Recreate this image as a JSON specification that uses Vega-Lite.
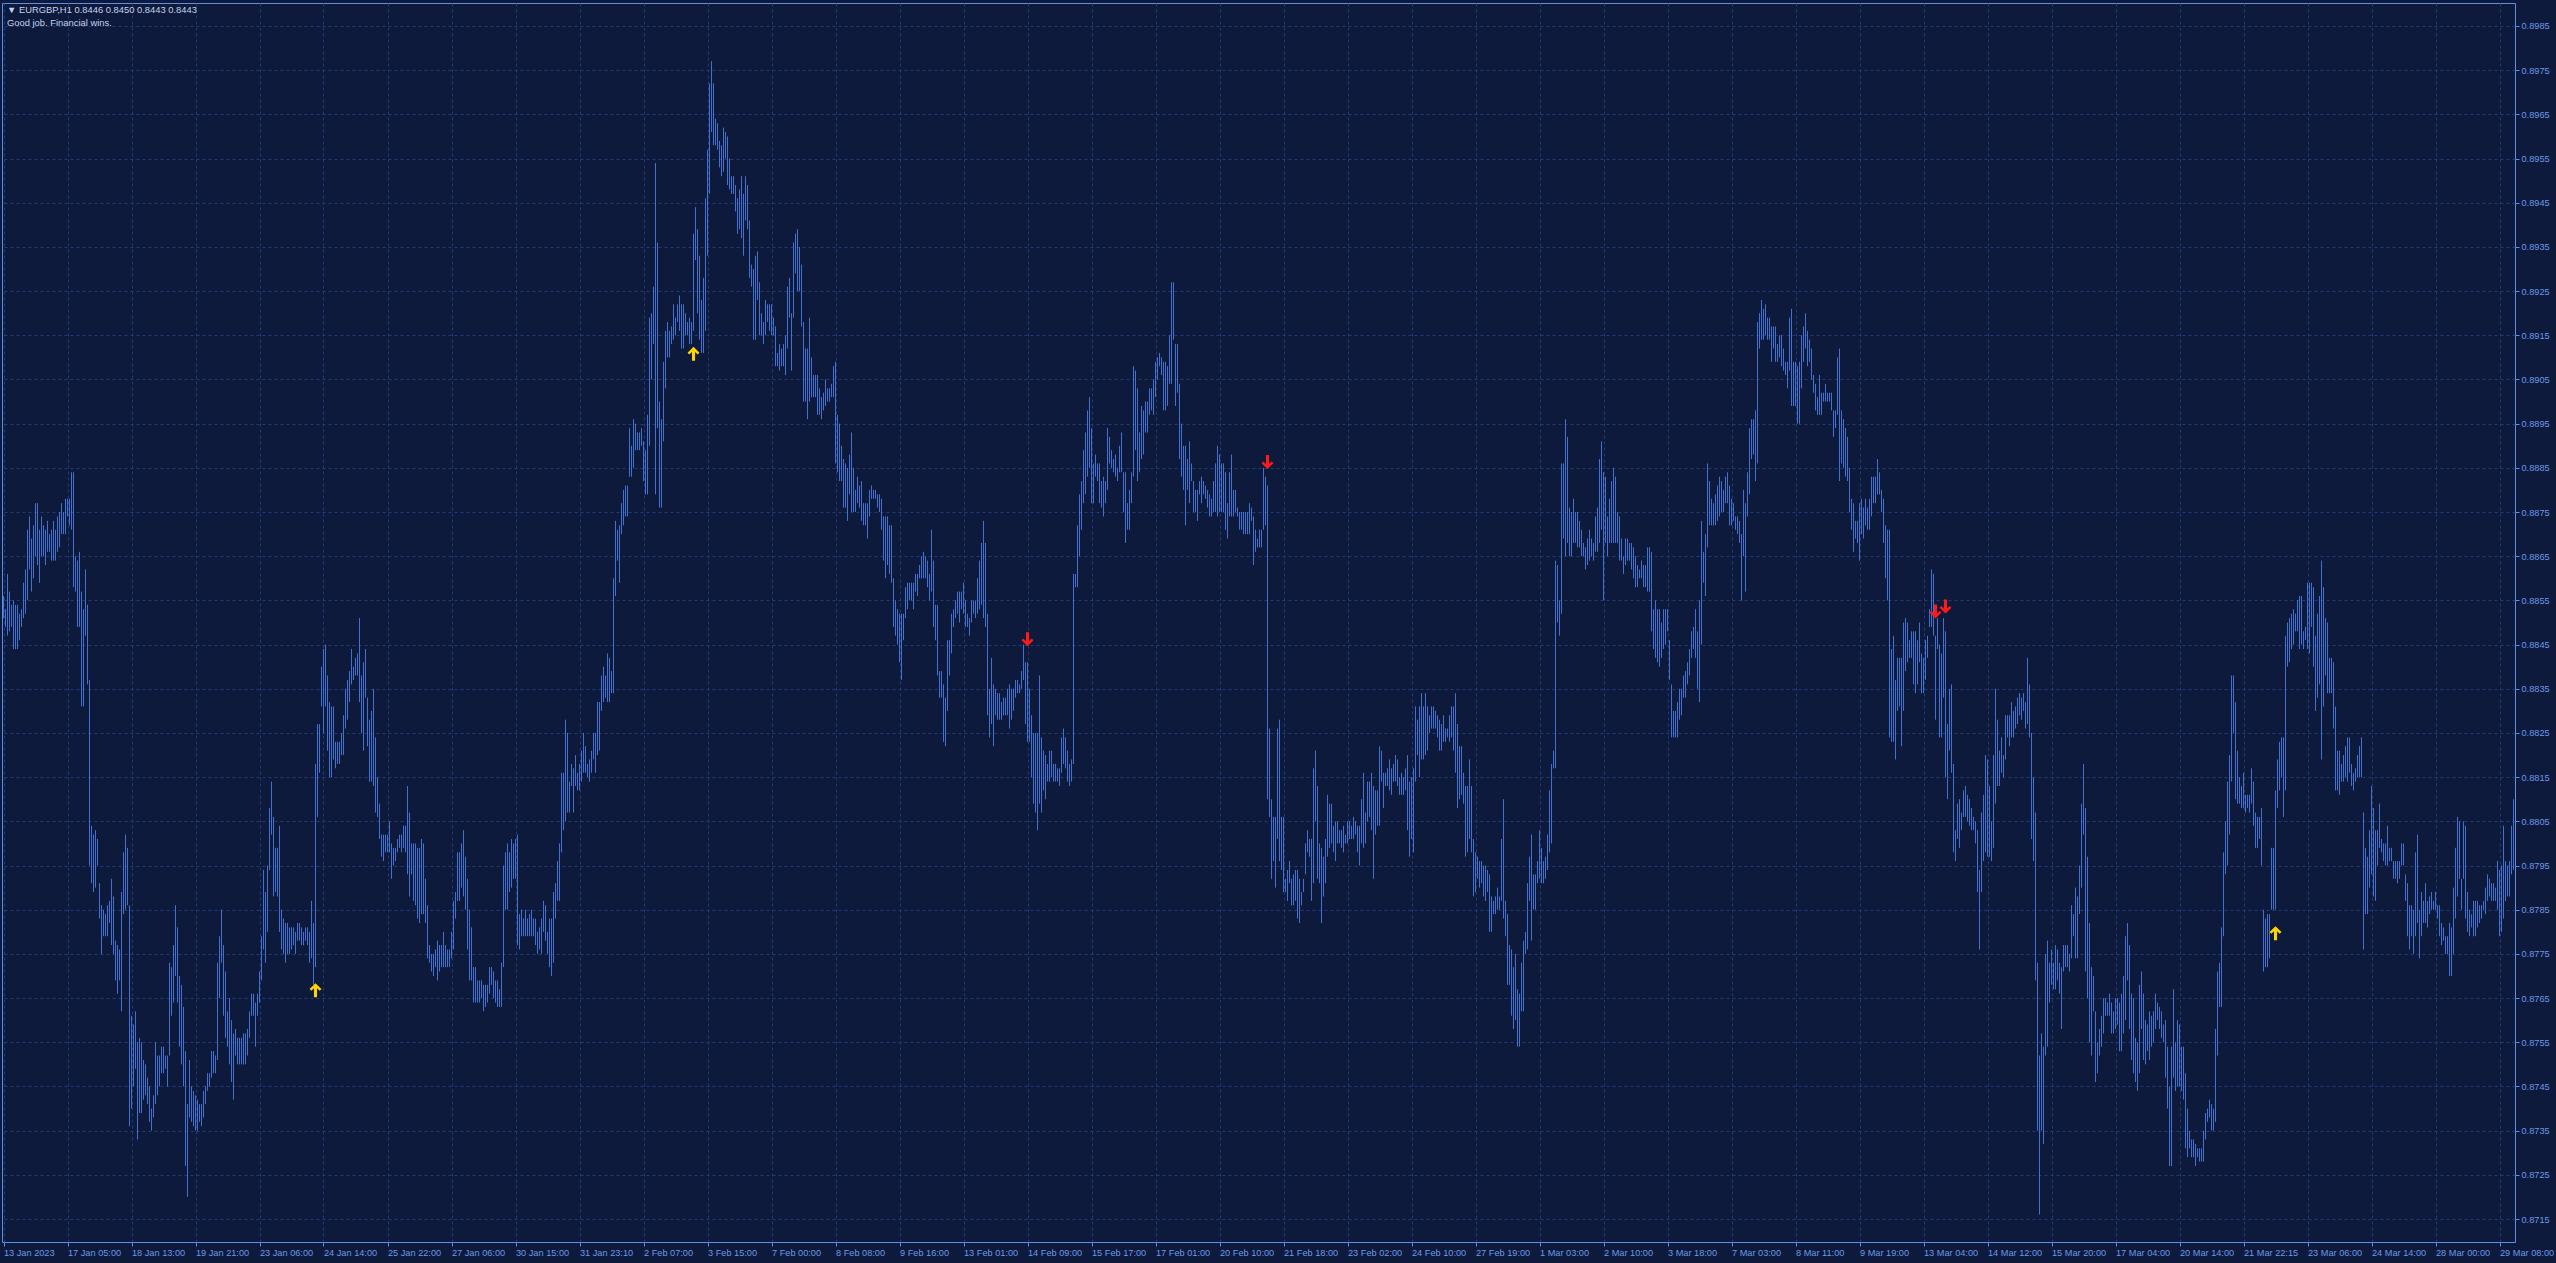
{
"$schema":"https://vega.github.io/schema/vega-lite/v6.json",
"width":2513,"height":1239,
"autosize":{"type":"none"},
"padding":{"left":2,"top":3,"right":41,"bottom":21},
"background":"#0e1a3b",
"config":{"view":{"stroke":"#5d8fe6","strokeWidth":1,"fill":"#0e1a3b"}},
"title":{"text":"▼ EURGBP,H1  0.8446 0.8450 0.8443 0.8443","subtitle":"Good job. Financial wins.","anchor":"start","frame":"group","orient":"top","offset":-25,"dx":5,"font":"Liberation Sans","fontSize":9.4,"fontWeight":"normal","color":"#c3d2f0","subtitleFont":"Liberation Sans","subtitleFontSize":9.4,"subtitleColor":"#c3d2f0","subtitlePadding":3.5},
"datasets":{
"signals":[{"i":156,"p":0.87668,"d":"up"},{"i":345,"p":0.89108,"d":"up"},{"i":512,"p":0.88462,"d":"down"},{"i":632,"p":0.88863,"d":"down"},{"i":966,"p":0.88525,"d":"down"},{"i":971,"p":0.88536,"d":"down"},{"i":1136,"p":0.87797,"d":"up"}],
"bars":[
{"i":0,"h":0.8856,"l":0.8851},{"i":1,"h":0.8853,"l":0.8849},{"i":2,"h":0.8861,"l":0.8847},{"i":3,"h":0.8857,"l":0.8848},{"i":4,"h":0.8854,"l":0.8849},{"i":5,"h":0.8855,"l":0.8844},{"i":6,"h":0.8854,"l":0.8844},{"i":7,"h":0.8854,"l":0.8844},{"i":8,"h":0.8852,"l":0.8846},{"i":9,"h":0.8853,"l":0.8849},
{"i":10,"h":0.8859,"l":0.8851},{"i":11,"h":0.8862,"l":0.8852},{"i":12,"h":0.8871,"l":0.8855},{"i":13,"h":0.8874,"l":0.8862},{"i":14,"h":0.8869,"l":0.8857},{"i":15,"h":0.8872,"l":0.8860},{"i":16,"h":0.8877,"l":0.8865},{"i":17,"h":0.8877,"l":0.8863},{"i":18,"h":0.8871,"l":0.8859},{"i":19,"h":0.8874,"l":0.8865},
{"i":20,"h":0.8872,"l":0.8865},{"i":21,"h":0.8871,"l":0.8863},{"i":22,"h":0.8873,"l":0.8866},{"i":23,"h":0.8870,"l":0.8866},{"i":24,"h":0.8871,"l":0.8864},{"i":25,"h":0.8873,"l":0.8864},{"i":26,"h":0.8871,"l":0.8864},{"i":27,"h":0.8874,"l":0.8866},{"i":28,"h":0.8875,"l":0.8867},{"i":29,"h":0.8877,"l":0.8870},
{"i":30,"h":0.8875,"l":0.8870},{"i":31,"h":0.8878,"l":0.8870},{"i":32,"h":0.8878,"l":0.8874},{"i":33,"h":0.8878,"l":0.8872},{"i":34,"h":0.8884,"l":0.8871},{"i":35,"h":0.8884,"l":0.8858},{"i":36,"h":0.8865,"l":0.8857},{"i":37,"h":0.8864,"l":0.8849},{"i":38,"h":0.8866,"l":0.8849},{"i":39,"h":0.8857,"l":0.8831},
{"i":40,"h":0.8853,"l":0.8831},{"i":41,"h":0.8862,"l":0.8847},{"i":42,"h":0.8854,"l":0.8836},{"i":43,"h":0.8837,"l":0.8795},{"i":44,"h":0.8804,"l":0.8791},{"i":45,"h":0.8802,"l":0.8789},{"i":46,"h":0.8803,"l":0.8790},{"i":47,"h":0.8801,"l":0.8795},{"i":48,"h":0.8791,"l":0.8783},{"i":49,"h":0.8786,"l":0.8775},
{"i":50,"h":0.8785,"l":0.8779},{"i":51,"h":0.8784,"l":0.8779},{"i":52,"h":0.8786,"l":0.8779},{"i":53,"h":0.8787,"l":0.8782},{"i":54,"h":0.8792,"l":0.8777},{"i":55,"h":0.8788,"l":0.8775},{"i":56,"h":0.8778,"l":0.8769},{"i":57,"h":0.8777,"l":0.8766},{"i":58,"h":0.8776,"l":0.8769},{"i":59,"h":0.8789,"l":0.8762},
{"i":60,"h":0.8798,"l":0.8784},{"i":61,"h":0.8802,"l":0.8785},{"i":62,"h":0.8799,"l":0.8786},{"i":63,"h":0.8786,"l":0.8736},{"i":64,"h":0.8761,"l":0.8740},{"i":65,"h":0.8759,"l":0.8745},{"i":66,"h":0.8762,"l":0.8749},{"i":67,"h":0.8755,"l":0.8733},{"i":68,"h":0.8756,"l":0.8739},{"i":69,"h":0.8755,"l":0.8739},
{"i":70,"h":0.8751,"l":0.8742},{"i":71,"h":0.8750,"l":0.8743},{"i":72,"h":0.8747,"l":0.8741},{"i":73,"h":0.8745,"l":0.8737},{"i":74,"h":0.8740,"l":0.8735},{"i":75,"h":0.8743,"l":0.8738},{"i":76,"h":0.8755,"l":0.8741},{"i":77,"h":0.8752,"l":0.8743},{"i":78,"h":0.8752,"l":0.8745},{"i":79,"h":0.8754,"l":0.8748},
{"i":80,"h":0.8754,"l":0.8748},{"i":81,"h":0.8752,"l":0.8749},{"i":82,"h":0.8752,"l":0.8745},{"i":83,"h":0.8773,"l":0.8752},{"i":84,"h":0.8772,"l":0.8761},{"i":85,"h":0.8777,"l":0.8764},{"i":86,"h":0.8786,"l":0.8770},{"i":87,"h":0.8781,"l":0.8764},{"i":88,"h":0.8770,"l":0.8754},{"i":89,"h":0.8768,"l":0.8750},
{"i":90,"h":0.8763,"l":0.8745},{"i":91,"h":0.8753,"l":0.8727},{"i":92,"h":0.8741,"l":0.8720},{"i":93,"h":0.8751,"l":0.8738},{"i":94,"h":0.8745,"l":0.8737},{"i":95,"h":0.8744,"l":0.8736},{"i":96,"h":0.8743,"l":0.8735},{"i":97,"h":0.8742,"l":0.8735},{"i":98,"h":0.8741,"l":0.8737},{"i":99,"h":0.8741,"l":0.8736},
{"i":100,"h":0.8744,"l":0.8738},{"i":101,"h":0.8745,"l":0.8741},{"i":102,"h":0.8748,"l":0.8744},{"i":103,"h":0.8748,"l":0.8745},{"i":104,"h":0.8753,"l":0.8747},{"i":105,"h":0.8753,"l":0.8748},{"i":106,"h":0.8752,"l":0.8748},{"i":107,"h":0.8773,"l":0.8751},{"i":108,"h":0.8779,"l":0.8765},{"i":109,"h":0.8785,"l":0.8773},
{"i":110,"h":0.8777,"l":0.8761},{"i":111,"h":0.8771,"l":0.8756},{"i":112,"h":0.8762,"l":0.8754},{"i":113,"h":0.8765,"l":0.8750},{"i":114,"h":0.8760,"l":0.8746},{"i":115,"h":0.8757,"l":0.8742},{"i":116,"h":0.8758,"l":0.8752},{"i":117,"h":0.8756,"l":0.8750},{"i":118,"h":0.8756,"l":0.8750},{"i":119,"h":0.8756,"l":0.8750},
{"i":120,"h":0.8757,"l":0.8750},{"i":121,"h":0.8757,"l":0.8750},{"i":122,"h":0.8758,"l":0.8752},{"i":123,"h":0.8762,"l":0.8756},{"i":124,"h":0.8766,"l":0.8761},{"i":125,"h":0.8766,"l":0.8761},{"i":126,"h":0.8764,"l":0.8754},{"i":127,"h":0.8766,"l":0.8761},{"i":128,"h":0.8771,"l":0.8764},{"i":129,"h":0.8779,"l":0.8769},
{"i":130,"h":0.8794,"l":0.8776},{"i":131,"h":0.8789,"l":0.8773},{"i":132,"h":0.8795,"l":0.8780},{"i":133,"h":0.8808,"l":0.8794},{"i":134,"h":0.8814,"l":0.8802},{"i":135,"h":0.8806,"l":0.8788},{"i":136,"h":0.8799,"l":0.8789},{"i":137,"h":0.8799,"l":0.8788},{"i":138,"h":0.8804,"l":0.8780},{"i":139,"h":0.8785,"l":0.8776},
{"i":140,"h":0.8783,"l":0.8775},{"i":141,"h":0.8782,"l":0.8773},{"i":142,"h":0.8782,"l":0.8775},{"i":143,"h":0.8781,"l":0.8775},{"i":144,"h":0.8781,"l":0.8776},{"i":145,"h":0.8781,"l":0.8777},{"i":146,"h":0.8780,"l":0.8775},{"i":147,"h":0.8782,"l":0.8778},{"i":148,"h":0.8782,"l":0.8778},{"i":149,"h":0.8781,"l":0.8777},
{"i":150,"h":0.8780,"l":0.8777},{"i":151,"h":0.8781,"l":0.8778},{"i":152,"h":0.8781,"l":0.8777},{"i":153,"h":0.8780,"l":0.8773},{"i":154,"h":0.8787,"l":0.8774},{"i":155,"h":0.8782,"l":0.8768},{"i":156,"h":0.8818,"l":0.8772},{"i":157,"h":0.8827,"l":0.8806},{"i":158,"h":0.8827,"l":0.8816},{"i":159,"h":0.8840,"l":0.8831},
{"i":160,"h":0.8844,"l":0.8825},{"i":161,"h":0.8845,"l":0.8831},{"i":162,"h":0.8838,"l":0.8821},{"i":163,"h":0.8832,"l":0.8815},{"i":164,"h":0.8831,"l":0.8815},{"i":165,"h":0.8831,"l":0.8819},{"i":166,"h":0.8823,"l":0.8817},{"i":167,"h":0.8823,"l":0.8818},{"i":168,"h":0.8823,"l":0.8818},{"i":169,"h":0.8825,"l":0.8820},
{"i":170,"h":0.8829,"l":0.8820},{"i":171,"h":0.8835,"l":0.8826},{"i":172,"h":0.8837,"l":0.8828},{"i":173,"h":0.8839,"l":0.8832},{"i":174,"h":0.8844,"l":0.8836},{"i":175,"h":0.8840,"l":0.8837},{"i":176,"h":0.8842,"l":0.8838},{"i":177,"h":0.8843,"l":0.8838},{"i":178,"h":0.8851,"l":0.8832},{"i":179,"h":0.8838,"l":0.8825},
{"i":180,"h":0.8841,"l":0.8821},{"i":181,"h":0.8844,"l":0.8833},{"i":182,"h":0.8833,"l":0.8822},{"i":183,"h":0.8828,"l":0.8814},{"i":184,"h":0.8830,"l":0.8814},{"i":185,"h":0.8835,"l":0.8813},{"i":186,"h":0.8824,"l":0.8807},{"i":187,"h":0.8815,"l":0.8806},{"i":188,"h":0.8809,"l":0.8801},{"i":189,"h":0.8802,"l":0.8797},
{"i":190,"h":0.8802,"l":0.8796},{"i":191,"h":0.8802,"l":0.8798},{"i":192,"h":0.8802,"l":0.8798},{"i":193,"h":0.8805,"l":0.8798},{"i":194,"h":0.8800,"l":0.8792},{"i":195,"h":0.8799,"l":0.8795},{"i":196,"h":0.8799,"l":0.8796},{"i":197,"h":0.8801,"l":0.8798},{"i":198,"h":0.8802,"l":0.8799},{"i":199,"h":0.8802,"l":0.8798},
{"i":200,"h":0.8804,"l":0.8799},{"i":201,"h":0.8804,"l":0.8798},{"i":202,"h":0.8813,"l":0.8793},{"i":203,"h":0.8807,"l":0.8788},{"i":204,"h":0.8800,"l":0.8793},{"i":205,"h":0.8800,"l":0.8787},{"i":206,"h":0.8800,"l":0.8786},{"i":207,"h":0.8799,"l":0.8783},{"i":208,"h":0.8799,"l":0.8782},{"i":209,"h":0.8801,"l":0.8784},
{"i":210,"h":0.8800,"l":0.8784},{"i":211,"h":0.8792,"l":0.8782},{"i":212,"h":0.8786,"l":0.8774},{"i":213,"h":0.8777,"l":0.8773},{"i":214,"h":0.8775,"l":0.8771},{"i":215,"h":0.8775,"l":0.8770},{"i":216,"h":0.8776,"l":0.8772},{"i":217,"h":0.8778,"l":0.8769},{"i":218,"h":0.8777,"l":0.8771},{"i":219,"h":0.8777,"l":0.8772},
{"i":220,"h":0.8780,"l":0.8772},{"i":221,"h":0.8777,"l":0.8772},{"i":222,"h":0.8776,"l":0.8772},{"i":223,"h":0.8776,"l":0.8772},{"i":224,"h":0.8780,"l":0.8774},{"i":225,"h":0.8787,"l":0.8776},{"i":226,"h":0.8789,"l":0.8783},{"i":227,"h":0.8798,"l":0.8787},{"i":228,"h":0.8798,"l":0.8787},{"i":229,"h":0.8800,"l":0.8790},
{"i":230,"h":0.8803,"l":0.8788},{"i":231,"h":0.8797,"l":0.8785},{"i":232,"h":0.8792,"l":0.8776},{"i":233,"h":0.8785,"l":0.8769},{"i":234,"h":0.8781,"l":0.8769},{"i":235,"h":0.8772,"l":0.8764},{"i":236,"h":0.8772,"l":0.8764},{"i":237,"h":0.8769,"l":0.8764},{"i":238,"h":0.8769,"l":0.8764},{"i":239,"h":0.8769,"l":0.8765},
{"i":240,"h":0.8768,"l":0.8762},{"i":241,"h":0.8768,"l":0.8763},{"i":242,"h":0.8768,"l":0.8764},{"i":243,"h":0.8772,"l":0.8766},{"i":244,"h":0.8772,"l":0.8768},{"i":245,"h":0.8771,"l":0.8765},{"i":246,"h":0.8769,"l":0.8764},{"i":247,"h":0.8769,"l":0.8763},{"i":248,"h":0.8767,"l":0.8763},{"i":249,"h":0.8773,"l":0.8763},
{"i":250,"h":0.8795,"l":0.8772},{"i":251,"h":0.8798,"l":0.8785},{"i":252,"h":0.8800,"l":0.8785},{"i":253,"h":0.8798,"l":0.8789},{"i":254,"h":0.8801,"l":0.8790},{"i":255,"h":0.8800,"l":0.8792},{"i":256,"h":0.8801,"l":0.8792},{"i":257,"h":0.8802,"l":0.8777},{"i":258,"h":0.8784,"l":0.8776},{"i":259,"h":0.8785,"l":0.8779},
{"i":260,"h":0.8783,"l":0.8779},{"i":261,"h":0.8785,"l":0.8779},{"i":262,"h":0.8783,"l":0.8779},{"i":263,"h":0.8784,"l":0.8779},{"i":264,"h":0.8785,"l":0.8779},{"i":265,"h":0.8783,"l":0.8779},{"i":266,"h":0.8783,"l":0.8777},{"i":267,"h":0.8780,"l":0.8775},{"i":268,"h":0.8781,"l":0.8776},{"i":269,"h":0.8783,"l":0.8775},
{"i":270,"h":0.8787,"l":0.8780},{"i":271,"h":0.8786,"l":0.8778},{"i":272,"h":0.8780,"l":0.8775},{"i":273,"h":0.8783,"l":0.8772},{"i":274,"h":0.8783,"l":0.8770},{"i":275,"h":0.8789,"l":0.8773},{"i":276,"h":0.8791,"l":0.8783},{"i":277,"h":0.8796,"l":0.8787},{"i":278,"h":0.8800,"l":0.8787},{"i":279,"h":0.8816,"l":0.8798},
{"i":280,"h":0.8816,"l":0.8803},{"i":281,"h":0.8828,"l":0.8805},{"i":282,"h":0.8825,"l":0.8807},{"i":283,"h":0.8814,"l":0.8807},{"i":284,"h":0.8818,"l":0.8813},{"i":285,"h":0.8817,"l":0.8807},{"i":286,"h":0.8820,"l":0.8813},{"i":287,"h":0.8816,"l":0.8812},{"i":288,"h":0.8818,"l":0.8812},{"i":289,"h":0.8821,"l":0.8814},
{"i":290,"h":0.8825,"l":0.8816},{"i":291,"h":0.8822,"l":0.8816},{"i":292,"h":0.8818,"l":0.8815},{"i":293,"h":0.8819,"l":0.8814},{"i":294,"h":0.8821,"l":0.8816},{"i":295,"h":0.8825,"l":0.8819},{"i":296,"h":0.8825,"l":0.8816},{"i":297,"h":0.8832,"l":0.8820},{"i":298,"h":0.8832,"l":0.8821},{"i":299,"h":0.8838,"l":0.8830},
{"i":300,"h":0.8840,"l":0.8832},{"i":301,"h":0.8838,"l":0.8833},{"i":302,"h":0.8843,"l":0.8832},{"i":303,"h":0.8842,"l":0.8832},{"i":304,"h":0.8839,"l":0.8834},{"i":305,"h":0.8860,"l":0.8834},{"i":306,"h":0.8873,"l":0.8856},{"i":307,"h":0.8871,"l":0.8864},{"i":308,"h":0.8872,"l":0.8859},{"i":309,"h":0.8877,"l":0.8870},
{"i":310,"h":0.8880,"l":0.8872},{"i":311,"h":0.8881,"l":0.8874},{"i":312,"h":0.8881,"l":0.8874},{"i":313,"h":0.8894,"l":0.8883},{"i":314,"h":0.8890,"l":0.8883},{"i":315,"h":0.8896,"l":0.8885},{"i":316,"h":0.8895,"l":0.8889},{"i":317,"h":0.8893,"l":0.8889},{"i":318,"h":0.8893,"l":0.8889},{"i":319,"h":0.8894,"l":0.8890},
{"i":320,"h":0.8891,"l":0.8882},{"i":321,"h":0.8889,"l":0.8879},{"i":322,"h":0.8897,"l":0.8879},{"i":323,"h":0.8919,"l":0.8890},{"i":324,"h":0.8920,"l":0.8905},{"i":325,"h":0.8926,"l":0.8913},{"i":326,"h":0.8954,"l":0.8879},{"i":327,"h":0.8936,"l":0.8894},{"i":328,"h":0.8900,"l":0.8876},{"i":329,"h":0.8896,"l":0.8876},
{"i":330,"h":0.8909,"l":0.8891},{"i":331,"h":0.8916,"l":0.8903},{"i":332,"h":0.8918,"l":0.8910},{"i":333,"h":0.8916,"l":0.8910},{"i":334,"h":0.8917,"l":0.8913},{"i":335,"h":0.8922,"l":0.8914},{"i":336,"h":0.8919,"l":0.8915},{"i":337,"h":0.8922,"l":0.8918},{"i":338,"h":0.8924,"l":0.8916},{"i":339,"h":0.8922,"l":0.8912},
{"i":340,"h":0.8922,"l":0.8912},{"i":341,"h":0.8920,"l":0.8915},{"i":342,"h":0.8918,"l":0.8915},{"i":343,"h":0.8919,"l":0.8913},{"i":344,"h":0.8918,"l":0.8913},{"i":345,"h":0.8938,"l":0.8916},{"i":346,"h":0.8944,"l":0.8932},{"i":347,"h":0.8939,"l":0.8920},{"i":348,"h":0.8933,"l":0.8914},{"i":349,"h":0.8923,"l":0.8911},
{"i":350,"h":0.8928,"l":0.8911},{"i":351,"h":0.8946,"l":0.8916},{"i":352,"h":0.8957,"l":0.8933},{"i":353,"h":0.8972,"l":0.8947},{"i":354,"h":0.8977,"l":0.8961},{"i":355,"h":0.8972,"l":0.8958},{"i":356,"h":0.8964,"l":0.8958},{"i":357,"h":0.8963,"l":0.8957},{"i":358,"h":0.8959,"l":0.8953},{"i":359,"h":0.8958,"l":0.8951},
{"i":360,"h":0.8962,"l":0.8952},{"i":361,"h":0.8961,"l":0.8955},{"i":362,"h":0.8960,"l":0.8949},{"i":363,"h":0.8955,"l":0.8948},{"i":364,"h":0.8951,"l":0.8947},{"i":365,"h":0.8951,"l":0.8947},{"i":366,"h":0.8949,"l":0.8943},{"i":367,"h":0.8946,"l":0.8938},{"i":368,"h":0.8948,"l":0.8939},{"i":369,"h":0.8951,"l":0.8937},
{"i":370,"h":0.8947,"l":0.8933},{"i":371,"h":0.8951,"l":0.8941},{"i":372,"h":0.8949,"l":0.8939},{"i":373,"h":0.8941,"l":0.8928},{"i":374,"h":0.8931,"l":0.8926},{"i":375,"h":0.8930,"l":0.8914},{"i":376,"h":0.8933,"l":0.8914},{"i":377,"h":0.8934,"l":0.8923},{"i":378,"h":0.8927,"l":0.8915},{"i":379,"h":0.8920,"l":0.8915},
{"i":380,"h":0.8918,"l":0.8913},{"i":381,"h":0.8923,"l":0.8915},{"i":382,"h":0.8922,"l":0.8918},{"i":383,"h":0.8922,"l":0.8916},{"i":384,"h":0.8922,"l":0.8915},{"i":385,"h":0.8919,"l":0.8915},{"i":386,"h":0.8917,"l":0.8908},{"i":387,"h":0.8911,"l":0.8908},{"i":388,"h":0.8913,"l":0.8907},{"i":389,"h":0.8912,"l":0.8908},
{"i":390,"h":0.8913,"l":0.8908},{"i":391,"h":0.8915,"l":0.8906},{"i":392,"h":0.8926,"l":0.8912},{"i":393,"h":0.8928,"l":0.8919},{"i":394,"h":0.8920,"l":0.8907},{"i":395,"h":0.8936,"l":0.8919},{"i":396,"h":0.8938,"l":0.8929},{"i":397,"h":0.8939,"l":0.8925},{"i":398,"h":0.8935,"l":0.8925},{"i":399,"h":0.8931,"l":0.8917},
{"i":400,"h":0.8918,"l":0.8900},{"i":401,"h":0.8912,"l":0.8900},{"i":402,"h":0.8912,"l":0.8896},{"i":403,"h":0.8919,"l":0.8900},{"i":404,"h":0.8910,"l":0.8901},{"i":405,"h":0.8906,"l":0.8901},{"i":406,"h":0.8906,"l":0.8901},{"i":407,"h":0.8906,"l":0.8897},{"i":408,"h":0.8903,"l":0.8897},{"i":409,"h":0.8901,"l":0.8896},
{"i":410,"h":0.8902,"l":0.8898},{"i":411,"h":0.8905,"l":0.8899},{"i":412,"h":0.8903,"l":0.8900},{"i":413,"h":0.8903,"l":0.8900},{"i":414,"h":0.8904,"l":0.8901},{"i":415,"h":0.8908,"l":0.8901},{"i":416,"h":0.8909,"l":0.8886},{"i":417,"h":0.8897,"l":0.8884},{"i":418,"h":0.8895,"l":0.8882},{"i":419,"h":0.8890,"l":0.8882},
{"i":420,"h":0.8887,"l":0.8876},{"i":421,"h":0.8886,"l":0.8876},{"i":422,"h":0.8885,"l":0.8873},{"i":423,"h":0.8888,"l":0.8879},{"i":424,"h":0.8893,"l":0.8875},{"i":425,"h":0.8885,"l":0.8875},{"i":426,"h":0.8880,"l":0.8875},{"i":427,"h":0.8883,"l":0.8877},{"i":428,"h":0.8881,"l":0.8876},{"i":429,"h":0.8882,"l":0.8873},
{"i":430,"h":0.8877,"l":0.8872},{"i":431,"h":0.8877,"l":0.8872},{"i":432,"h":0.8877,"l":0.8869},{"i":433,"h":0.8880,"l":0.8874},{"i":434,"h":0.8881,"l":0.8878},{"i":435,"h":0.8880,"l":0.8878},{"i":436,"h":0.8880,"l":0.8878},{"i":437,"h":0.8879,"l":0.8876},{"i":438,"h":0.8879,"l":0.8875},{"i":439,"h":0.8878,"l":0.8871},
{"i":440,"h":0.8874,"l":0.8864},{"i":441,"h":0.8874,"l":0.8860},{"i":442,"h":0.8874,"l":0.8863},{"i":443,"h":0.8872,"l":0.8861},{"i":444,"h":0.8872,"l":0.8859},{"i":445,"h":0.8860,"l":0.8849},{"i":446,"h":0.8855,"l":0.8847},{"i":447,"h":0.8853,"l":0.8845},{"i":448,"h":0.8852,"l":0.8841},{"i":449,"h":0.8852,"l":0.8837},
{"i":450,"h":0.8852,"l":0.8846},{"i":451,"h":0.8858,"l":0.8851},{"i":452,"h":0.8859,"l":0.8853},{"i":453,"h":0.8859,"l":0.8855},{"i":454,"h":0.8859,"l":0.8855},{"i":455,"h":0.8859,"l":0.8853},{"i":456,"h":0.8861,"l":0.8857},{"i":457,"h":0.8861,"l":0.8856},{"i":458,"h":0.8863,"l":0.8860},{"i":459,"h":0.8865,"l":0.8860},
{"i":460,"h":0.8866,"l":0.8860},{"i":461,"h":0.8865,"l":0.8860},{"i":462,"h":0.8864,"l":0.8858},{"i":463,"h":0.8861,"l":0.8855},{"i":464,"h":0.8871,"l":0.8857},{"i":465,"h":0.8864,"l":0.8849},{"i":466,"h":0.8854,"l":0.8846},{"i":467,"h":0.8854,"l":0.8838},{"i":468,"h":0.8839,"l":0.8833},{"i":469,"h":0.8839,"l":0.8833},
{"i":470,"h":0.8836,"l":0.8823},{"i":471,"h":0.8833,"l":0.8822},{"i":472,"h":0.8846,"l":0.8830},{"i":473,"h":0.8846,"l":0.8838},{"i":474,"h":0.8852,"l":0.8843},{"i":475,"h":0.8853,"l":0.8849},{"i":476,"h":0.8855,"l":0.8851},{"i":477,"h":0.8857,"l":0.8852},{"i":478,"h":0.8857,"l":0.8850},{"i":479,"h":0.8857,"l":0.8853},
{"i":480,"h":0.8859,"l":0.8852},{"i":481,"h":0.8855,"l":0.8849},{"i":482,"h":0.8852,"l":0.8849},{"i":483,"h":0.8851,"l":0.8847},{"i":484,"h":0.8855,"l":0.8850},{"i":485,"h":0.8855,"l":0.8852},{"i":486,"h":0.8855,"l":0.8851},{"i":487,"h":0.8860,"l":0.8852},{"i":488,"h":0.8864,"l":0.8853},{"i":489,"h":0.8868,"l":0.8854},
{"i":490,"h":0.8873,"l":0.8851},{"i":491,"h":0.8868,"l":0.8849},{"i":492,"h":0.8852,"l":0.8829},{"i":493,"h":0.8835,"l":0.8824},{"i":494,"h":0.8842,"l":0.8827},{"i":495,"h":0.8836,"l":0.8822},{"i":496,"h":0.8835,"l":0.8829},{"i":497,"h":0.8834,"l":0.8828},{"i":498,"h":0.8834,"l":0.8828},{"i":499,"h":0.8832,"l":0.8828},
{"i":500,"h":0.8833,"l":0.8829},{"i":501,"h":0.8833,"l":0.8829},{"i":502,"h":0.8835,"l":0.8829},{"i":503,"h":0.8836,"l":0.8826},{"i":504,"h":0.8835,"l":0.8828},{"i":505,"h":0.8835,"l":0.8830},{"i":506,"h":0.8837,"l":0.8833},{"i":507,"h":0.8837,"l":0.8834},{"i":508,"h":0.8836,"l":0.8834},{"i":509,"h":0.8839,"l":0.8835},
{"i":510,"h":0.8845,"l":0.8837},{"i":511,"h":0.8841,"l":0.8827},{"i":512,"h":0.8841,"l":0.8823},{"i":513,"h":0.8835,"l":0.8823},{"i":514,"h":0.8829,"l":0.8815},{"i":515,"h":0.8825,"l":0.8809},{"i":516,"h":0.8825,"l":0.8807},{"i":517,"h":0.8825,"l":0.8803},{"i":518,"h":0.8838,"l":0.8809},{"i":519,"h":0.8824,"l":0.8807},
{"i":520,"h":0.8821,"l":0.8812},{"i":521,"h":0.8820,"l":0.8810},{"i":522,"h":0.8818,"l":0.8814},{"i":523,"h":0.8821,"l":0.8814},{"i":524,"h":0.8821,"l":0.8815},{"i":525,"h":0.8818,"l":0.8814},{"i":526,"h":0.8818,"l":0.8814},{"i":527,"h":0.8817,"l":0.8814},{"i":528,"h":0.8817,"l":0.8813},{"i":529,"h":0.8824,"l":0.8816},
{"i":530,"h":0.8826,"l":0.8818},{"i":531,"h":0.8824,"l":0.8817},{"i":532,"h":0.8821,"l":0.8814},{"i":533,"h":0.8818,"l":0.8813},{"i":534,"h":0.8819,"l":0.8814},{"i":535,"h":0.8861,"l":0.8818},{"i":536,"h":0.8861,"l":0.8858},{"i":537,"h":0.8872,"l":0.8858},{"i":538,"h":0.8879,"l":0.8865},{"i":539,"h":0.8882,"l":0.8871},
{"i":540,"h":0.8889,"l":0.8877},{"i":541,"h":0.8893,"l":0.8879},{"i":542,"h":0.8898,"l":0.8883},{"i":543,"h":0.8901,"l":0.8885},{"i":544,"h":0.8894,"l":0.8877},{"i":545,"h":0.8886,"l":0.8877},{"i":546,"h":0.8888,"l":0.8883},{"i":547,"h":0.8886,"l":0.8882},{"i":548,"h":0.8886,"l":0.8877},{"i":549,"h":0.8882,"l":0.8876},
{"i":550,"h":0.8883,"l":0.8874},{"i":551,"h":0.8882,"l":0.8877},{"i":552,"h":0.8894,"l":0.8880},{"i":553,"h":0.8892,"l":0.8886},{"i":554,"h":0.8889,"l":0.8885},{"i":555,"h":0.8887,"l":0.8884},{"i":556,"h":0.8888,"l":0.8883},{"i":557,"h":0.8885,"l":0.8882},{"i":558,"h":0.8890,"l":0.8884},{"i":559,"h":0.8893,"l":0.8884},
{"i":560,"h":0.8884,"l":0.8875},{"i":561,"h":0.8884,"l":0.8868},{"i":562,"h":0.8877,"l":0.8871},{"i":563,"h":0.8880,"l":0.8871},{"i":564,"h":0.8884,"l":0.8877},{"i":565,"h":0.8908,"l":0.8883},{"i":566,"h":0.8907,"l":0.8889},{"i":567,"h":0.8903,"l":0.8882},{"i":568,"h":0.8893,"l":0.8884},{"i":569,"h":0.8899,"l":0.8887},
{"i":570,"h":0.8898,"l":0.8888},{"i":571,"h":0.8900,"l":0.8893},{"i":572,"h":0.8900,"l":0.8893},{"i":573,"h":0.8903,"l":0.8897},{"i":574,"h":0.8903,"l":0.8898},{"i":575,"h":0.8905,"l":0.8897},{"i":576,"h":0.8909,"l":0.8901},{"i":577,"h":0.8910,"l":0.8905},{"i":578,"h":0.8911,"l":0.8908},{"i":579,"h":0.8910,"l":0.8906},
{"i":580,"h":0.8909,"l":0.8898},{"i":581,"h":0.8909,"l":0.8898},{"i":582,"h":0.8908,"l":0.8899},{"i":583,"h":0.8915,"l":0.8904},{"i":584,"h":0.8927,"l":0.8904},{"i":585,"h":0.8927,"l":0.8914},{"i":586,"h":0.8913,"l":0.8899},{"i":587,"h":0.8913,"l":0.8902},{"i":588,"h":0.8904,"l":0.8887},{"i":589,"h":0.8895,"l":0.8883},
{"i":590,"h":0.8890,"l":0.8880},{"i":591,"h":0.8890,"l":0.8872},{"i":592,"h":0.8887,"l":0.8880},{"i":593,"h":0.8891,"l":0.8877},{"i":594,"h":0.8886,"l":0.8882},{"i":595,"h":0.8882,"l":0.8875},{"i":596,"h":0.8880,"l":0.8875},{"i":597,"h":0.8880,"l":0.8873},{"i":598,"h":0.8882,"l":0.8879},{"i":599,"h":0.8883,"l":0.8877},
{"i":600,"h":0.8882,"l":0.8879},{"i":601,"h":0.8881,"l":0.8878},{"i":602,"h":0.8880,"l":0.8876},{"i":603,"h":0.8879,"l":0.8874},{"i":604,"h":0.8878,"l":0.8874},{"i":605,"h":0.8882,"l":0.8875},{"i":606,"h":0.8886,"l":0.8875},{"i":607,"h":0.8890,"l":0.8874},{"i":608,"h":0.8888,"l":0.8875},{"i":609,"h":0.8886,"l":0.8875},
{"i":610,"h":0.8886,"l":0.8875},{"i":611,"h":0.8884,"l":0.8871},{"i":612,"h":0.8877,"l":0.8869},{"i":613,"h":0.8884,"l":0.8874},{"i":614,"h":0.8888,"l":0.8874},{"i":615,"h":0.8880,"l":0.8874},{"i":616,"h":0.8880,"l":0.8875},{"i":617,"h":0.8876,"l":0.8874},{"i":618,"h":0.8875,"l":0.8871},{"i":619,"h":0.8875,"l":0.8871},
{"i":620,"h":0.8875,"l":0.8870},{"i":621,"h":0.8875,"l":0.8870},{"i":622,"h":0.8875,"l":0.8870},{"i":623,"h":0.8877,"l":0.8870},{"i":624,"h":0.8876,"l":0.8873},{"i":625,"h":0.8874,"l":0.8863},{"i":626,"h":0.8871,"l":0.8866},{"i":627,"h":0.8869,"l":0.8867},{"i":628,"h":0.8871,"l":0.8867},{"i":629,"h":0.8871,"l":0.8867},
{"i":630,"h":0.8885,"l":0.8871},{"i":631,"h":0.8883,"l":0.8872},{"i":632,"h":0.8881,"l":0.8810},{"i":633,"h":0.8826,"l":0.8806},{"i":634,"h":0.8810,"l":0.8792},{"i":635,"h":0.8806,"l":0.8796},{"i":636,"h":0.8806,"l":0.8790},{"i":637,"h":0.8826,"l":0.8801},{"i":638,"h":0.8828,"l":0.8796},{"i":639,"h":0.8806,"l":0.8794},
{"i":640,"h":0.8806,"l":0.8789},{"i":641,"h":0.8792,"l":0.8789},{"i":642,"h":0.8794,"l":0.8787},{"i":643,"h":0.8796,"l":0.8791},{"i":644,"h":0.8792,"l":0.8786},{"i":645,"h":0.8793,"l":0.8786},{"i":646,"h":0.8794,"l":0.8787},{"i":647,"h":0.8794,"l":0.8783},{"i":648,"h":0.8792,"l":0.8782},{"i":649,"h":0.8789,"l":0.8786},
{"i":650,"h":0.8792,"l":0.8789},{"i":651,"h":0.8800,"l":0.8793},{"i":652,"h":0.8803,"l":0.8798},{"i":653,"h":0.8801,"l":0.8797},{"i":654,"h":0.8801,"l":0.8787},{"i":655,"h":0.8817,"l":0.8791},{"i":656,"h":0.8821,"l":0.8805},{"i":657,"h":0.8813,"l":0.8792},{"i":658,"h":0.8800,"l":0.8791},{"i":659,"h":0.8799,"l":0.8782},
{"i":660,"h":0.8797,"l":0.8788},{"i":661,"h":0.8801,"l":0.8791},{"i":662,"h":0.8811,"l":0.8797},{"i":663,"h":0.8809,"l":0.8799},{"i":664,"h":0.8809,"l":0.8800},{"i":665,"h":0.8804,"l":0.8798},{"i":666,"h":0.8805,"l":0.8796},{"i":667,"h":0.8805,"l":0.8800},{"i":668,"h":0.8803,"l":0.8800},{"i":669,"h":0.8803,"l":0.8799},
{"i":670,"h":0.8804,"l":0.8798},{"i":671,"h":0.8802,"l":0.8800},{"i":672,"h":0.8805,"l":0.8800},{"i":673,"h":0.8805,"l":0.8801},{"i":674,"h":0.8804,"l":0.8801},{"i":675,"h":0.8806,"l":0.8801},{"i":676,"h":0.8805,"l":0.8802},{"i":677,"h":0.8804,"l":0.8798},{"i":678,"h":0.8804,"l":0.8795},{"i":679,"h":0.8810,"l":0.8800},
{"i":680,"h":0.8816,"l":0.8799},{"i":681,"h":0.8807,"l":0.8800},{"i":682,"h":0.8814,"l":0.8805},{"i":683,"h":0.8814,"l":0.8806},{"i":684,"h":0.8816,"l":0.8803},{"i":685,"h":0.8813,"l":0.8792},{"i":686,"h":0.8812,"l":0.8802},{"i":687,"h":0.8812,"l":0.8804},{"i":688,"h":0.8822,"l":0.8804},{"i":689,"h":0.8821,"l":0.8814},
{"i":690,"h":0.8816,"l":0.8808},{"i":691,"h":0.8816,"l":0.8813},{"i":692,"h":0.8817,"l":0.8813},{"i":693,"h":0.8819,"l":0.8812},{"i":694,"h":0.8817,"l":0.8811},{"i":695,"h":0.8818,"l":0.8814},{"i":696,"h":0.8820,"l":0.8814},{"i":697,"h":0.8819,"l":0.8813},{"i":698,"h":0.8815,"l":0.8811},{"i":699,"h":0.8816,"l":0.8811},
{"i":700,"h":0.8815,"l":0.8811},{"i":701,"h":0.8817,"l":0.8812},{"i":702,"h":0.8820,"l":0.8803},{"i":703,"h":0.8814,"l":0.8797},{"i":704,"h":0.8815,"l":0.8801},{"i":705,"h":0.8817,"l":0.8798},{"i":706,"h":0.8831,"l":0.8814},{"i":707,"h":0.8828,"l":0.8820},{"i":708,"h":0.8831,"l":0.8815},{"i":709,"h":0.8834,"l":0.8819},
{"i":710,"h":0.8831,"l":0.8819},{"i":711,"h":0.8834,"l":0.8820},{"i":712,"h":0.8831,"l":0.8821},{"i":713,"h":0.8829,"l":0.8825},{"i":714,"h":0.8831,"l":0.8826},{"i":715,"h":0.8831,"l":0.8826},{"i":716,"h":0.8830,"l":0.8826},{"i":717,"h":0.8829,"l":0.8824},{"i":718,"h":0.8828,"l":0.8821},{"i":719,"h":0.8827,"l":0.8821},
{"i":720,"h":0.8829,"l":0.8823},{"i":721,"h":0.8826,"l":0.8823},{"i":722,"h":0.8826,"l":0.8824},{"i":723,"h":0.8829,"l":0.8823},{"i":724,"h":0.8831,"l":0.8824},{"i":725,"h":0.8831,"l":0.8821},{"i":726,"h":0.8834,"l":0.8816},{"i":727,"h":0.8827,"l":0.8808},{"i":728,"h":0.8822,"l":0.8810},{"i":729,"h":0.8822,"l":0.8811},
{"i":730,"h":0.8816,"l":0.8809},{"i":731,"h":0.8813,"l":0.8797},{"i":732,"h":0.8813,"l":0.8798},{"i":733,"h":0.8819,"l":0.8801},{"i":734,"h":0.8813,"l":0.8798},{"i":735,"h":0.8801,"l":0.8788},{"i":736,"h":0.8798,"l":0.8789},{"i":737,"h":0.8797,"l":0.8792},{"i":738,"h":0.8796,"l":0.8790},{"i":739,"h":0.8796,"l":0.8791},
{"i":740,"h":0.8795,"l":0.8788},{"i":741,"h":0.8795,"l":0.8787},{"i":742,"h":0.8794,"l":0.8789},{"i":743,"h":0.8793,"l":0.8780},{"i":744,"h":0.8788,"l":0.8780},{"i":745,"h":0.8787,"l":0.8784},{"i":746,"h":0.8788,"l":0.8784},{"i":747,"h":0.8790,"l":0.8785},{"i":748,"h":0.8788,"l":0.8785},{"i":749,"h":0.8801,"l":0.8787},
{"i":750,"h":0.8810,"l":0.8783},{"i":751,"h":0.8787,"l":0.8779},{"i":752,"h":0.8784,"l":0.8768},{"i":753,"h":0.8777,"l":0.8768},{"i":754,"h":0.8776,"l":0.8761},{"i":755,"h":0.8772,"l":0.8758},{"i":756,"h":0.8775,"l":0.8760},{"i":757,"h":0.8767,"l":0.8754},{"i":758,"h":0.8766,"l":0.8754},{"i":759,"h":0.8773,"l":0.8762},
{"i":760,"h":0.8778,"l":0.8762},{"i":761,"h":0.8780,"l":0.8775},{"i":762,"h":0.8791,"l":0.8776},{"i":763,"h":0.8797,"l":0.8787},{"i":764,"h":0.8802,"l":0.8778},{"i":765,"h":0.8793,"l":0.8785},{"i":766,"h":0.8793,"l":0.8785},{"i":767,"h":0.8796,"l":0.8791},{"i":768,"h":0.8803,"l":0.8792},{"i":769,"h":0.8799,"l":0.8791},
{"i":770,"h":0.8796,"l":0.8791},{"i":771,"h":0.8797,"l":0.8792},{"i":772,"h":0.8802,"l":0.8794},{"i":773,"h":0.8812,"l":0.8798},{"i":774,"h":0.8818,"l":0.8800},{"i":775,"h":0.8821,"l":0.8817},{"i":776,"h":0.8864,"l":0.8817},{"i":777,"h":0.8863,"l":0.8850},{"i":778,"h":0.8855,"l":0.8847},{"i":779,"h":0.8886,"l":0.8852},
{"i":780,"h":0.8886,"l":0.8869},{"i":781,"h":0.8896,"l":0.8865},{"i":782,"h":0.8892,"l":0.8868},{"i":783,"h":0.8876,"l":0.8865},{"i":784,"h":0.8875,"l":0.8865},{"i":785,"h":0.8878,"l":0.8868},{"i":786,"h":0.8875,"l":0.8868},{"i":787,"h":0.8875,"l":0.8867},{"i":788,"h":0.8873,"l":0.8867},{"i":789,"h":0.8871,"l":0.8865},
{"i":790,"h":0.8868,"l":0.8865},{"i":791,"h":0.8867,"l":0.8862},{"i":792,"h":0.8869,"l":0.8863},{"i":793,"h":0.8871,"l":0.8864},{"i":794,"h":0.8869,"l":0.8865},{"i":795,"h":0.8868,"l":0.8864},{"i":796,"h":0.8874,"l":0.8866},{"i":797,"h":0.8876,"l":0.8866},{"i":798,"h":0.8887,"l":0.8868},{"i":799,"h":0.8891,"l":0.8871},
{"i":800,"h":0.8884,"l":0.8855},{"i":801,"h":0.8883,"l":0.8868},{"i":802,"h":0.8874,"l":0.8865},{"i":803,"h":0.8878,"l":0.8868},{"i":804,"h":0.8882,"l":0.8868},{"i":805,"h":0.8885,"l":0.8868},{"i":806,"h":0.8883,"l":0.8868},{"i":807,"h":0.8875,"l":0.8868},{"i":808,"h":0.8874,"l":0.8864},{"i":809,"h":0.8869,"l":0.8864},
{"i":810,"h":0.8865,"l":0.8861},{"i":811,"h":0.8869,"l":0.8863},{"i":812,"h":0.8869,"l":0.8864},{"i":813,"h":0.8868,"l":0.8864},{"i":814,"h":0.8868,"l":0.8862},{"i":815,"h":0.8867,"l":0.8860},{"i":816,"h":0.8865,"l":0.8858},{"i":817,"h":0.8863,"l":0.8858},{"i":818,"h":0.8862,"l":0.8860},{"i":819,"h":0.8864,"l":0.8860},
{"i":820,"h":0.8863,"l":0.8858},{"i":821,"h":0.8863,"l":0.8858},{"i":822,"h":0.8867,"l":0.8857},{"i":823,"h":0.8867,"l":0.8857},{"i":824,"h":0.8866,"l":0.8848},{"i":825,"h":0.8853,"l":0.8844},{"i":826,"h":0.8855,"l":0.8842},{"i":827,"h":0.8853,"l":0.8841},{"i":828,"h":0.8853,"l":0.8840},{"i":829,"h":0.8850,"l":0.8842},
{"i":830,"h":0.8853,"l":0.8844},{"i":831,"h":0.8853,"l":0.8845},{"i":832,"h":0.8853,"l":0.8848},{"i":833,"h":0.8846,"l":0.8837},{"i":834,"h":0.8836,"l":0.8824},{"i":835,"h":0.8830,"l":0.8824},{"i":836,"h":0.8830,"l":0.8824},{"i":837,"h":0.8832,"l":0.8824},{"i":838,"h":0.8835,"l":0.8828},{"i":839,"h":0.8835,"l":0.8829},
{"i":840,"h":0.8838,"l":0.8833},{"i":841,"h":0.8839,"l":0.8833},{"i":842,"h":0.8841,"l":0.8836},{"i":843,"h":0.8844,"l":0.8838},{"i":844,"h":0.8848,"l":0.8842},{"i":845,"h":0.8849,"l":0.8844},{"i":846,"h":0.8853,"l":0.8842},{"i":847,"h":0.8848,"l":0.8835},{"i":848,"h":0.8855,"l":0.8832},{"i":849,"h":0.8873,"l":0.8845},
{"i":850,"h":0.8866,"l":0.8859},{"i":851,"h":0.8870,"l":0.8856},{"i":852,"h":0.8886,"l":0.8867},{"i":853,"h":0.8882,"l":0.8872},{"i":854,"h":0.8878,"l":0.8872},{"i":855,"h":0.8877,"l":0.8872},{"i":856,"h":0.8879,"l":0.8872},{"i":857,"h":0.8881,"l":0.8873},{"i":858,"h":0.8883,"l":0.8874},{"i":859,"h":0.8882,"l":0.8875},
{"i":860,"h":0.8880,"l":0.8875},{"i":861,"h":0.8883,"l":0.8877},{"i":862,"h":0.8884,"l":0.8877},{"i":863,"h":0.8881,"l":0.8872},{"i":864,"h":0.8878,"l":0.8872},{"i":865,"h":0.8877,"l":0.8873},{"i":866,"h":0.8874,"l":0.8871},{"i":867,"h":0.8874,"l":0.8870},{"i":868,"h":0.8873,"l":0.8868},{"i":869,"h":0.8870,"l":0.8855},
{"i":870,"h":0.8880,"l":0.8865},{"i":871,"h":0.8877,"l":0.8857},{"i":872,"h":0.8884,"l":0.8874},{"i":873,"h":0.8894,"l":0.8879},{"i":874,"h":0.8896,"l":0.8887},{"i":875,"h":0.8896,"l":0.8888},{"i":876,"h":0.8898,"l":0.8882},{"i":877,"h":0.8918,"l":0.8886},{"i":878,"h":0.8920,"l":0.8912},{"i":879,"h":0.8923,"l":0.8914},
{"i":880,"h":0.8921,"l":0.8914},{"i":881,"h":0.8922,"l":0.8915},{"i":882,"h":0.8919,"l":0.8914},{"i":883,"h":0.8919,"l":0.8914},{"i":884,"h":0.8917,"l":0.8909},{"i":885,"h":0.8917,"l":0.8912},{"i":886,"h":0.8917,"l":0.8909},{"i":887,"h":0.8913,"l":0.8909},{"i":888,"h":0.8915,"l":0.8910},{"i":889,"h":0.8915,"l":0.8908},
{"i":890,"h":0.8912,"l":0.8907},{"i":891,"h":0.8909,"l":0.8906},{"i":892,"h":0.8909,"l":0.8903},{"i":893,"h":0.8919,"l":0.8907},{"i":894,"h":0.8921,"l":0.8899},{"i":895,"h":0.8909,"l":0.8899},{"i":896,"h":0.8909,"l":0.8899},{"i":897,"h":0.8908,"l":0.8895},{"i":898,"h":0.8909,"l":0.8895},{"i":899,"h":0.8915,"l":0.8903},
{"i":900,"h":0.8917,"l":0.8909},{"i":901,"h":0.8920,"l":0.8912},{"i":902,"h":0.8916,"l":0.8908},{"i":903,"h":0.8914,"l":0.8909},{"i":904,"h":0.8912,"l":0.8905},{"i":905,"h":0.8906,"l":0.8902},{"i":906,"h":0.8904,"l":0.8898},{"i":907,"h":0.8901,"l":0.8897},{"i":908,"h":0.8906,"l":0.8897},{"i":909,"h":0.8902,"l":0.8897},
{"i":910,"h":0.8902,"l":0.8900},{"i":911,"h":0.8904,"l":0.8900},{"i":912,"h":0.8902,"l":0.8900},{"i":913,"h":0.8902,"l":0.8900},{"i":914,"h":0.8902,"l":0.8898},{"i":915,"h":0.8898,"l":0.8892},{"i":916,"h":0.8898,"l":0.8894},{"i":917,"h":0.8910,"l":0.8897},{"i":918,"h":0.8912,"l":0.8882},{"i":919,"h":0.8898,"l":0.8886},
{"i":920,"h":0.8896,"l":0.8885},{"i":921,"h":0.8894,"l":0.8883},{"i":922,"h":0.8892,"l":0.8882},{"i":923,"h":0.8885,"l":0.8875},{"i":924,"h":0.8878,"l":0.8871},{"i":925,"h":0.8877,"l":0.8866},{"i":926,"h":0.8873,"l":0.8869},{"i":927,"h":0.8873,"l":0.8868},{"i":928,"h":0.8877,"l":0.8864},{"i":929,"h":0.8878,"l":0.8870},
{"i":930,"h":0.8876,"l":0.8869},{"i":931,"h":0.8878,"l":0.8872},{"i":932,"h":0.8876,"l":0.8871},{"i":933,"h":0.8878,"l":0.8871},{"i":934,"h":0.8883,"l":0.8874},{"i":935,"h":0.8883,"l":0.8877},{"i":936,"h":0.8883,"l":0.8877},{"i":937,"h":0.8887,"l":0.8879},{"i":938,"h":0.8884,"l":0.8879},{"i":939,"h":0.8880,"l":0.8875},
{"i":940,"h":0.8878,"l":0.8868},{"i":941,"h":0.8872,"l":0.8860},{"i":942,"h":0.8871,"l":0.8855},{"i":943,"h":0.8871,"l":0.8824},{"i":944,"h":0.8844,"l":0.8823},{"i":945,"h":0.8847,"l":0.8823},{"i":946,"h":0.8837,"l":0.8819},{"i":947,"h":0.8842,"l":0.8830},{"i":948,"h":0.8842,"l":0.8831},{"i":949,"h":0.8842,"l":0.8822},
{"i":950,"h":0.8850,"l":0.8830},{"i":951,"h":0.8851,"l":0.8839},{"i":952,"h":0.8850,"l":0.8841},{"i":953,"h":0.8846,"l":0.8842},{"i":954,"h":0.8848,"l":0.8842},{"i":955,"h":0.8848,"l":0.8836},{"i":956,"h":0.8848,"l":0.8834},{"i":957,"h":0.8846,"l":0.8836},{"i":958,"h":0.8850,"l":0.8841},{"i":959,"h":0.8843,"l":0.8834},
{"i":960,"h":0.8842,"l":0.8834},{"i":961,"h":0.8846,"l":0.8837},{"i":962,"h":0.8847,"l":0.8842},{"i":963,"h":0.8853,"l":0.8849},{"i":964,"h":0.8862,"l":0.8849},{"i":965,"h":0.8861,"l":0.8847},{"i":966,"h":0.8847,"l":0.8828},{"i":967,"h":0.8851,"l":0.8844},{"i":968,"h":0.8845,"l":0.8824},{"i":969,"h":0.8843,"l":0.8824},
{"i":970,"h":0.8851,"l":0.8833},{"i":971,"h":0.8848,"l":0.8815},{"i":972,"h":0.8827,"l":0.8810},{"i":973,"h":0.8835,"l":0.8821},{"i":974,"h":0.8836,"l":0.8816},{"i":975,"h":0.8818,"l":0.8798},{"i":976,"h":0.8803,"l":0.8796},{"i":977,"h":0.8809,"l":0.8801},{"i":978,"h":0.8810,"l":0.8799},{"i":979,"h":0.8807,"l":0.8803},
{"i":980,"h":0.8812,"l":0.8806},{"i":981,"h":0.8813,"l":0.8806},{"i":982,"h":0.8811,"l":0.8805},{"i":983,"h":0.8810,"l":0.8804},{"i":984,"h":0.8808,"l":0.8803},{"i":985,"h":0.8806,"l":0.8803},{"i":986,"h":0.8805,"l":0.8800},{"i":987,"h":0.8803,"l":0.8789},{"i":988,"h":0.8794,"l":0.8776},{"i":989,"h":0.8807,"l":0.8789},
{"i":990,"h":0.8811,"l":0.8796},{"i":991,"h":0.8820,"l":0.8798},{"i":992,"h":0.8819,"l":0.8797},{"i":993,"h":0.8813,"l":0.8797},{"i":994,"h":0.8805,"l":0.8796},{"i":995,"h":0.8820,"l":0.8799},{"i":996,"h":0.8835,"l":0.8809},{"i":997,"h":0.8828,"l":0.8813},{"i":998,"h":0.8821,"l":0.8813},{"i":999,"h":0.8824,"l":0.8816},
{"i":1000,"h":0.8820,"l":0.8815},{"i":1001,"h":0.8829,"l":0.8819},{"i":1002,"h":0.8829,"l":0.8824},{"i":1003,"h":0.8829,"l":0.8822},{"i":1004,"h":0.8832,"l":0.8824},{"i":1005,"h":0.8830,"l":0.8824},{"i":1006,"h":0.8831,"l":0.8826},{"i":1007,"h":0.8833,"l":0.8827},{"i":1008,"h":0.8834,"l":0.8829},{"i":1009,"h":0.8833,"l":0.8828},
{"i":1010,"h":0.8834,"l":0.8830},{"i":1011,"h":0.8832,"l":0.8826},{"i":1012,"h":0.8842,"l":0.8827},{"i":1013,"h":0.8836,"l":0.8824},{"i":1014,"h":0.8825,"l":0.8801},{"i":1015,"h":0.8815,"l":0.8796},{"i":1016,"h":0.8807,"l":0.8769},{"i":1017,"h":0.8773,"l":0.8735},{"i":1018,"h":0.8752,"l":0.8716},{"i":1019,"h":0.8757,"l":0.8735},
{"i":1020,"h":0.8754,"l":0.8732},{"i":1021,"h":0.8775,"l":0.8752},{"i":1022,"h":0.8778,"l":0.8754},{"i":1023,"h":0.8773,"l":0.8764},{"i":1024,"h":0.8776,"l":0.8768},{"i":1025,"h":0.8773,"l":0.8767},{"i":1026,"h":0.8777,"l":0.8767},{"i":1027,"h":0.8776,"l":0.8769},{"i":1028,"h":0.8773,"l":0.8766},{"i":1029,"h":0.8772,"l":0.8758},
{"i":1030,"h":0.8777,"l":0.8771},{"i":1031,"h":0.8777,"l":0.8772},{"i":1032,"h":0.8777,"l":0.8772},{"i":1033,"h":0.8775,"l":0.8771},{"i":1034,"h":0.8786,"l":0.8774},{"i":1035,"h":0.8784,"l":0.8779},{"i":1036,"h":0.8790,"l":0.8774},{"i":1037,"h":0.8788,"l":0.8774},{"i":1038,"h":0.8795,"l":0.8784},{"i":1039,"h":0.8809,"l":0.8790},
{"i":1040,"h":0.8818,"l":0.8802},{"i":1041,"h":0.8808,"l":0.8771},{"i":1042,"h":0.8797,"l":0.8765},{"i":1043,"h":0.8782,"l":0.8755},{"i":1044,"h":0.8772,"l":0.8752},{"i":1045,"h":0.8770,"l":0.8762},{"i":1046,"h":0.8762,"l":0.8746},{"i":1047,"h":0.8755,"l":0.8748},{"i":1048,"h":0.8758,"l":0.8752},{"i":1049,"h":0.8761,"l":0.8754},
{"i":1050,"h":0.8765,"l":0.8757},{"i":1051,"h":0.8765,"l":0.8761},{"i":1052,"h":0.8764,"l":0.8761},{"i":1053,"h":0.8766,"l":0.8761},{"i":1054,"h":0.8764,"l":0.8757},{"i":1055,"h":0.8762,"l":0.8757},{"i":1056,"h":0.8765,"l":0.8758},{"i":1057,"h":0.8765,"l":0.8759},{"i":1058,"h":0.8764,"l":0.8753},{"i":1059,"h":0.8766,"l":0.8753},
{"i":1060,"h":0.8770,"l":0.8757},{"i":1061,"h":0.8779,"l":0.8760},{"i":1062,"h":0.8782,"l":0.8769},{"i":1063,"h":0.8777,"l":0.8758},{"i":1064,"h":0.8766,"l":0.8751},{"i":1065,"h":0.8765,"l":0.8748},{"i":1066,"h":0.8756,"l":0.8746},{"i":1067,"h":0.8755,"l":0.8744},{"i":1068,"h":0.8768,"l":0.8748},{"i":1069,"h":0.8771,"l":0.8758},
{"i":1070,"h":0.8766,"l":0.8751},{"i":1071,"h":0.8760,"l":0.8750},{"i":1072,"h":0.8759,"l":0.8753},{"i":1073,"h":0.8762,"l":0.8751},{"i":1074,"h":0.8761,"l":0.8754},{"i":1075,"h":0.8762,"l":0.8755},{"i":1076,"h":0.8766,"l":0.8758},{"i":1077,"h":0.8764,"l":0.8760},{"i":1078,"h":0.8763,"l":0.8758},{"i":1079,"h":0.8762,"l":0.8756},
{"i":1080,"h":0.8759,"l":0.8755},{"i":1081,"h":0.8760,"l":0.8747},{"i":1082,"h":0.8754,"l":0.8740},{"i":1083,"h":0.8745,"l":0.8727},{"i":1084,"h":0.8754,"l":0.8727},{"i":1085,"h":0.8767,"l":0.8747},{"i":1086,"h":0.8755,"l":0.8744},{"i":1087,"h":0.8760,"l":0.8745},{"i":1088,"h":0.8759,"l":0.8745},{"i":1089,"h":0.8754,"l":0.8744},
{"i":1090,"h":0.8754,"l":0.8742},{"i":1091,"h":0.8748,"l":0.8731},{"i":1092,"h":0.8740,"l":0.8729},{"i":1093,"h":0.8735,"l":0.8731},{"i":1094,"h":0.8733,"l":0.8729},{"i":1095,"h":0.8733,"l":0.8729},{"i":1096,"h":0.8732,"l":0.8727},{"i":1097,"h":0.8731,"l":0.8729},{"i":1098,"h":0.8731,"l":0.8728},{"i":1099,"h":0.8731,"l":0.8728},
{"i":1100,"h":0.8735,"l":0.8728},{"i":1101,"h":0.8739,"l":0.8733},{"i":1102,"h":0.8740,"l":0.8737},{"i":1103,"h":0.8742,"l":0.8738},{"i":1104,"h":0.8741,"l":0.8735},{"i":1105,"h":0.8740,"l":0.8735},{"i":1106,"h":0.8758,"l":0.8737},{"i":1107,"h":0.8771,"l":0.8752},{"i":1108,"h":0.8773,"l":0.8763},{"i":1109,"h":0.8781,"l":0.8763},
{"i":1110,"h":0.8798,"l":0.8779},{"i":1111,"h":0.8805,"l":0.8793},{"i":1112,"h":0.8814,"l":0.8795},{"i":1113,"h":0.8820,"l":0.8802},{"i":1114,"h":0.8838,"l":0.8814},{"i":1115,"h":0.8838,"l":0.8825},{"i":1116,"h":0.8832,"l":0.8810},{"i":1117,"h":0.8821,"l":0.8809},{"i":1118,"h":0.8815,"l":0.8809},{"i":1119,"h":0.8813,"l":0.8808},
{"i":1120,"h":0.8816,"l":0.8808},{"i":1121,"h":0.8811,"l":0.8807},{"i":1122,"h":0.8811,"l":0.8808},{"i":1123,"h":0.8811,"l":0.8807},{"i":1124,"h":0.8817,"l":0.8809},{"i":1125,"h":0.8814,"l":0.8804},{"i":1126,"h":0.8807,"l":0.8799},{"i":1127,"h":0.8806,"l":0.8799},{"i":1128,"h":0.8806,"l":0.8801},{"i":1129,"h":0.8808,"l":0.8795},
{"i":1130,"h":0.8785,"l":0.8771},{"i":1131,"h":0.8783,"l":0.8772},{"i":1132,"h":0.8784,"l":0.8772},{"i":1133,"h":0.8784,"l":0.8774},{"i":1134,"h":0.8799,"l":0.8785},{"i":1135,"h":0.8799,"l":0.8785},{"i":1136,"h":0.8812,"l":0.8785},{"i":1137,"h":0.8819,"l":0.8808},{"i":1138,"h":0.8823,"l":0.8812},{"i":1139,"h":0.8824,"l":0.8815},
{"i":1140,"h":0.8824,"l":0.8806},{"i":1141,"h":0.8847,"l":0.8812},{"i":1142,"h":0.8850,"l":0.8840},{"i":1143,"h":0.8851,"l":0.8841},{"i":1144,"h":0.8852,"l":0.8844},{"i":1145,"h":0.8853,"l":0.8845},{"i":1146,"h":0.8852,"l":0.8848},{"i":1147,"h":0.8855,"l":0.8848},{"i":1148,"h":0.8856,"l":0.8844},{"i":1149,"h":0.8856,"l":0.8845},
{"i":1150,"h":0.8848,"l":0.8844},{"i":1151,"h":0.8849,"l":0.8846},{"i":1152,"h":0.8859,"l":0.8844},{"i":1153,"h":0.8859,"l":0.8843},{"i":1154,"h":0.8859,"l":0.8849},{"i":1155,"h":0.8858,"l":0.8840},{"i":1156,"h":0.8847,"l":0.8830},{"i":1157,"h":0.8852,"l":0.8833},{"i":1158,"h":0.8856,"l":0.8836},{"i":1159,"h":0.8864,"l":0.8819},
{"i":1160,"h":0.8858,"l":0.8831},{"i":1161,"h":0.8851,"l":0.8838},{"i":1162,"h":0.8850,"l":0.8834},{"i":1163,"h":0.8842,"l":0.8834},{"i":1164,"h":0.8842,"l":0.8834},{"i":1165,"h":0.8841,"l":0.8826},{"i":1166,"h":0.8831,"l":0.8812},{"i":1167,"h":0.8821,"l":0.8812},{"i":1168,"h":0.8821,"l":0.8811},{"i":1169,"h":0.8818,"l":0.8814},
{"i":1170,"h":0.8820,"l":0.8814},{"i":1171,"h":0.8822,"l":0.8815},{"i":1172,"h":0.8824,"l":0.8814},{"i":1173,"h":0.8824,"l":0.8816},{"i":1174,"h":0.8818,"l":0.8813},{"i":1175,"h":0.8816,"l":0.8812},{"i":1176,"h":0.8817,"l":0.8814},{"i":1177,"h":0.8820,"l":0.8815},{"i":1178,"h":0.8822,"l":0.8815},{"i":1179,"h":0.8824,"l":0.8815},
{"i":1180,"h":0.8807,"l":0.8776},{"i":1181,"h":0.8799,"l":0.8784},{"i":1182,"h":0.8797,"l":0.8784},{"i":1183,"h":0.8803,"l":0.8790},{"i":1184,"h":0.8813,"l":0.8793},{"i":1185,"h":0.8808,"l":0.8788},{"i":1186,"h":0.8803,"l":0.8787},{"i":1187,"h":0.8803,"l":0.8795},{"i":1188,"h":0.8809,"l":0.8799},{"i":1189,"h":0.8801,"l":0.8798},
{"i":1190,"h":0.8800,"l":0.8796},{"i":1191,"h":0.8800,"l":0.8795},{"i":1192,"h":0.8804,"l":0.8795},{"i":1193,"h":0.8799,"l":0.8796},{"i":1194,"h":0.8799,"l":0.8796},{"i":1195,"h":0.8796,"l":0.8792},{"i":1196,"h":0.8796,"l":0.8792},{"i":1197,"h":0.8796,"l":0.8791},{"i":1198,"h":0.8796,"l":0.8792},{"i":1199,"h":0.8800,"l":0.8795},
{"i":1200,"h":0.8800,"l":0.8795},{"i":1201,"h":0.8793,"l":0.8787},{"i":1202,"h":0.8791,"l":0.8779},{"i":1203,"h":0.8786,"l":0.8776},{"i":1204,"h":0.8786,"l":0.8779},{"i":1205,"h":0.8785,"l":0.8775},{"i":1206,"h":0.8798,"l":0.8779},{"i":1207,"h":0.8802,"l":0.8782},{"i":1208,"h":0.8785,"l":0.8774},{"i":1209,"h":0.8789,"l":0.8779},
{"i":1210,"h":0.8787,"l":0.8782},{"i":1211,"h":0.8791,"l":0.8782},{"i":1212,"h":0.8787,"l":0.8781},{"i":1213,"h":0.8788,"l":0.8784},{"i":1214,"h":0.8789,"l":0.8785},{"i":1215,"h":0.8787,"l":0.8785},{"i":1216,"h":0.8789,"l":0.8785},{"i":1217,"h":0.8786,"l":0.8783},{"i":1218,"h":0.8786,"l":0.8779},{"i":1219,"h":0.8782,"l":0.8777},
{"i":1220,"h":0.8781,"l":0.8778},{"i":1221,"h":0.8779,"l":0.8775},{"i":1222,"h":0.8779,"l":0.8775},{"i":1223,"h":0.8782,"l":0.8770},{"i":1224,"h":0.8781,"l":0.8770},{"i":1225,"h":0.8790,"l":0.8775},{"i":1226,"h":0.8799,"l":0.8783},{"i":1227,"h":0.8806,"l":0.8788},{"i":1228,"h":0.8805,"l":0.8792},{"i":1229,"h":0.8792,"l":0.8785},
{"i":1230,"h":0.8805,"l":0.8792},{"i":1231,"h":0.8804,"l":0.8783},{"i":1232,"h":0.8789,"l":0.8780},{"i":1233,"h":0.8785,"l":0.8779},{"i":1234,"h":0.8784,"l":0.8781},{"i":1235,"h":0.8787,"l":0.8779},{"i":1236,"h":0.8787,"l":0.8779},{"i":1237,"h":0.8787,"l":0.8781},{"i":1238,"h":0.8786,"l":0.8782},{"i":1239,"h":0.8786,"l":0.8783},
{"i":1240,"h":0.8787,"l":0.8785},{"i":1241,"h":0.8790,"l":0.8784},{"i":1242,"h":0.8793,"l":0.8787},{"i":1243,"h":0.8792,"l":0.8788},{"i":1244,"h":0.8791,"l":0.8787},{"i":1245,"h":0.8791,"l":0.8787},{"i":1246,"h":0.8790,"l":0.8787},{"i":1247,"h":0.8796,"l":0.8785},{"i":1248,"h":0.8794,"l":0.8779},{"i":1249,"h":0.8795,"l":0.8780},
{"i":1250,"h":0.8804,"l":0.8783},{"i":1251,"h":0.8796,"l":0.8787},{"i":1252,"h":0.8795,"l":0.8788},{"i":1253,"h":0.8796,"l":0.8788},{"i":1254,"h":0.8804,"l":0.8793},{"i":1255,"h":0.8810,"l":0.8794}
]},
"layer":[
{"data":{"name":"bars"},
 "mark":{"type":"rule","color":"#4470d0","strokeWidth":1},
 "encoding":{
  "x":{"field":"i","type":"quantitative","scale":{"domain":[-0.75,1255.75],"nice":false,"zero":false},
   "axis":{"values":[0,16,32,48,64,80,96,112,128,144,160,176,192,208,224,240,256,272,288,304,320,336,352,368,384,400,416,432,448,464,480,496,512,528,544,560,576,592,608,624,640,656,672,688,704,720,736,752,768,784,800,816,832,848,864,880,896,912,928,944,960,976,992,1008,1024,1040,1056,1072,1088,1104,1120,1136,1152,1168,1184,1200,1216,1232,1248],
    "grid":true,"gridColor":"#203c78","gridDash":[3,3],"gridWidth":1,"domain":false,"ticks":true,"tickSize":4,"tickColor":"#5d8fe6",
    "tickOpacity":{"condition":{"test":"datum.value % 32 === 0","value":1},"value":0},
    "labelExpr":"datum.value % 32 === 0 ? ['13 Jan 2023','17 Jan 05:00','18 Jan 13:00','19 Jan 21:00','23 Jan 06:00','24 Jan 14:00','25 Jan 22:00','27 Jan 06:00','30 Jan 15:00','31 Jan 23:10','2 Feb 07:00','3 Feb 15:00','7 Feb 00:00','8 Feb 08:00','9 Feb 16:00','13 Feb 01:00','14 Feb 09:00','15 Feb 17:00','17 Feb 01:00','20 Feb 10:00','21 Feb 18:00','23 Feb 02:00','24 Feb 10:00','27 Feb 19:00','1 Mar 03:00','2 Mar 10:00','3 Mar 18:00','7 Mar 03:00','8 Mar 11:00','9 Mar 19:00','13 Mar 04:00','14 Mar 12:00','15 Mar 20:00','17 Mar 04:00','20 Mar 14:00','21 Mar 22:15','23 Mar 06:00','24 Mar 14:00','28 Mar 00:00','29 Mar 08:00'][datum.value / 32] : ''",
    "labelAlign":"left","labelPadding":2,"labelFont":"Liberation Sans","labelFontSize":9.2,"labelColor":"#6c99ea","labelOverlap":false,"labelFlush":false,"labelBound":false,"title":null}},
  "y":{"field":"l","type":"quantitative","scale":{"domain":[0.87098,0.89902],"nice":false,"zero":false},
   "axis":{"orient":"right","values":[0.8715,0.8725,0.8735,0.8745,0.8755,0.8765,0.8775,0.8785,0.8795,0.8805,0.8815,0.8825,0.8835,0.8845,0.8855,0.8865,0.8875,0.8885,0.8895,0.8905,0.8915,0.8925,0.8935,0.8945,0.8955,0.8965,0.8975,0.8985],
    "format":".4f","grid":true,"gridColor":"#203c78","gridDash":[3,3],"gridWidth":1,"domain":false,"tickSize":4,"tickColor":"#5d8fe6","labelPadding":2,"labelFont":"Liberation Sans","labelFontSize":9.2,"labelColor":"#6c99ea","labelOverlap":false,"title":null}},
  "y2":{"field":"h"}}},
{"data":{"name":"signals"},
 "mark":{"type":"point","filled":true,"size":196,"opacity":1,"strokeWidth":0},
 "encoding":{
  "x":{"field":"i","type":"quantitative","scale":{"domain":[-0.75,1255.75],"nice":false,"zero":false},"axis":{"title":null}},
  "y":{"field":"p","type":"quantitative","scale":{"domain":[0.87098,0.89902],"nice":false,"zero":false},"axis":{"title":null}},
  "shape":{"field":"d","type":"nominal","scale":{"domain":["up","down"],"range":["M0,-1L0.85,-0.15L0.6,0.1L0.22,-0.28L0.22,1L-0.22,1L-0.22,-0.28L-0.6,0.1L-0.85,-0.15Z","M0,1L0.85,0.15L0.6,-0.1L0.22,0.28L0.22,-1L-0.22,-1L-0.22,0.28L-0.6,-0.1L-0.85,0.15Z"]},"legend":null},
  "color":{"field":"d","type":"nominal","scale":{"domain":["up","down"],"range":["#ffd500","#ff1a1a"]},"legend":null}}}
]
}
